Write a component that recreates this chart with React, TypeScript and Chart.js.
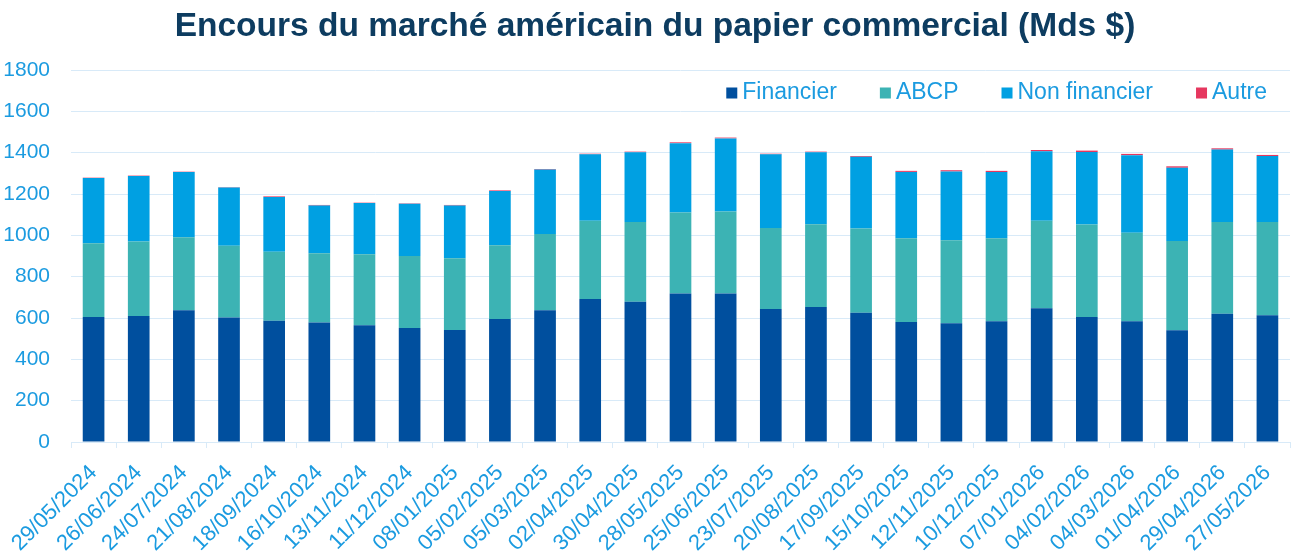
import React, { useEffect, useRef } from "react";
import { Chart, registerables } from "chart.js";

Chart.register(...registerables);

const labels = [
  "29/05/2024", "26/06/2024", "24/07/2024", "21/08/2024", "18/09/2024", "16/10/2024",
  "13/11/2024", "11/12/2024", "08/01/2025", "05/02/2025", "05/03/2025", "02/04/2025",
  "30/04/2025", "28/05/2025", "25/06/2025", "23/07/2025", "20/08/2025", "17/09/2025",
  "15/10/2025", "12/11/2025", "10/12/2025", "07/01/2026", "04/02/2026", "04/03/2026",
  "01/04/2026", "29/04/2026", "27/05/2026",
];

const financier = [605, 610, 637, 603, 587, 578, 565, 552, 542, 595, 637, 692, 679, 718, 718, 644, 653, 626, 581, 574, 584, 647, 605, 584, 541, 621, 613];
const abcp = [357, 360, 354, 346, 333, 335, 343, 348, 347, 357, 370, 379, 386, 392, 397, 392, 401, 407, 405, 402, 402, 424, 447, 429, 432, 444, 452];
const nonFinancier = [315, 317, 315, 283, 266, 231, 248, 253, 255, 263, 311, 321, 337, 336, 354, 356, 348, 347, 321, 333, 320, 336, 351, 375, 354, 350, 319];
const autre = [2, 2, 2, 2, 3, 3, 2, 2, 3, 3, 3, 3, 3, 4, 4, 3, 3, 4, 5, 6, 6, 6, 7, 6, 7, 6, 5];

const yTicks = [0, 200, 400, 600, 800, 1000, 1200, 1400, 1600, 1800];

const TITLE = "Encours du marché américain du papier commercial (Mds $)";
const FONT = "Arial, 'Liberation Sans', sans-serif";
const TEXT_BLUE = "#1b9be0";
const GRID = "#d8eaf8";

const titlePlugin = {
  id: "customTitle",
  afterDraw(chart: any) {
    const ctx = chart.ctx;
    ctx.save();
    ctx.font = `bold 33.5px ${FONT}`;
    ctx.fillStyle = "#0d3c60";
    ctx.textAlign = "center";
    ctx.textBaseline = "middle";
    ctx.fillText(TITLE, 655, 27);
    ctx.restore();
  },
};

const legendPlugin = {
  id: "insideLegend",
  afterDraw(chart: any) {
    const ctx = chart.ctx;
    const area = chart.chartArea;
    const size = 23;
    const box = 11;
    const boxGap = 5;
    const itemGap = 43;
    ctx.save();
    ctx.font = `${size}px ${FONT}`;
    const items = chart.data.datasets.map((d: any) => ({
      text: d.label,
      color: d.backgroundColor,
      w: ctx.measureText(d.label).width,
    }));
    let total = 0;
    items.forEach((it: any, i: number) => {
      total += box + boxGap + it.w + (i < items.length - 1 ? itemGap : 0);
    });
    let x = area.right - 23 - total;
    const y = 93;
    ctx.textBaseline = "middle";
    ctx.textAlign = "left";
    items.forEach((it: any) => {
      ctx.fillStyle = it.color;
      ctx.fillRect(x, y - box / 2, box, box);
      x += box + boxGap;
      ctx.fillStyle = TEXT_BLUE;
      ctx.fillText(it.text, x, y);
      x += it.w + itemGap;
    });
    ctx.restore();
  },
};

export default function App() {
  const ref = useRef<HTMLCanvasElement>(null);

  useEffect(() => {
    document.body.style.margin = "0";
    const canvas = ref.current;
    if (!canvas) return;
    const chart = new Chart(canvas, {
      type: "bar",
      data: {
        labels,
        datasets: [
          { label: "Financier", data: financier, backgroundColor: "#004f9e" },
          { label: "ABCP", data: abcp, backgroundColor: "#3cb3b4" },
          { label: "Non financier", data: nonFinancier, backgroundColor: "#00a0e2" },
          { label: "Autre", data: autre, backgroundColor: "#e6375f" },
        ],
      },
      options: {
        responsive: false,
        animation: false,
        devicePixelRatio: 1,
        layout: { padding: { left: 0, right: 10, top: 70, bottom: 0 } },
        datasets: {
          bar: { barPercentage: 0.48, categoryPercentage: 1 },
        },
        plugins: {
          legend: { display: false },
          tooltip: { enabled: false },
          title: { display: false },
        },
        scales: {
          x: {
            stacked: true,
            offset: true,
            grid: {
              display: true,
              drawOnChartArea: false,
              drawTicks: true,
              tickLength: 6,
              color: GRID,
              offset: true,
            },
            border: { display: true, color: GRID, width: 1 },
            ticks: {
              color: TEXT_BLUE,
              font: { family: FONT, size: 22 },
              minRotation: 45,
              maxRotation: 45,
              autoSkip: false,
              padding: 12,
            },
            afterFit(scale: any) {
              scale.height = 118;
            },
          },
          y: {
            stacked: true,
            min: 0,
            max: 1800,
            afterBuildTicks(scale: any) {
              scale.ticks = yTicks.map((v) => ({ value: v }));
            },
            grid: { color: GRID, drawTicks: false, lineWidth: 1 },
            border: { display: false },
            ticks: {
              color: TEXT_BLUE,
              font: { family: FONT, size: 21 },
              padding: 21,
              callback: (v: any) => String(v),
            },
            afterFit(scale: any) {
              scale.width = 71;
            },
          },
        },
      },
      plugins: [titlePlugin, legendPlugin],
    });
    return () => chart.destroy();
  }, []);

  return (
    <div style={{ width: 1300, height: 560, background: "#fff" }}>
      <canvas ref={ref} width={1300} height={560} style={{ display: "block" }} />
    </div>
  );
}
